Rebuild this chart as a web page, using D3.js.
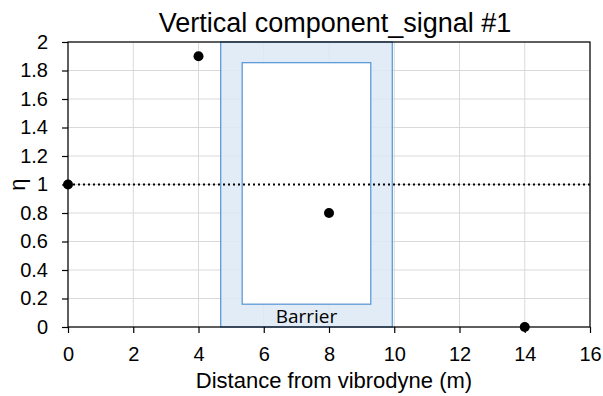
<!DOCTYPE html>
<html>
<head>
<meta charset="utf-8">
<script src="https://cdn.jsdelivr.net/npm/d3@7"></script>
<style>
  body { margin: 0; background: #fff; }
  text { font-family: "Liberation Sans", Arial, sans-serif; }
</style>
</head>
<body>
<script>
// data
var pointX = [0, 4, 8, 14];
var pointY = [1, 1.9, 0.8, 0];
var xTicks = [0, 2, 4, 6, 8, 10, 12, 14, 16];
var yTicks = [0, 0.2, 0.4, 0.6, 0.8, 1, 1.2, 1.4, 1.6, 1.8, 2];
var refLevel = 1;
var barrierOuter = [4.68, 9.94, 0, 2];
var barrierInner = [5.34, 9.28, 0.16, 1.855];

var margin = { top: 42, right: 13, bottom: 69, left: 68 },
    width = 603 - margin.left - margin.right,
    height = 396 - margin.top - margin.bottom;

var x = d3.scaleLinear().domain([0, 16]).range([0, width]);
var y = d3.scaleLinear().domain([0, 2]).range([height, 0]);

var svg = d3.select("body").append("svg")
    .attr("width", 603)
    .attr("height", 396);

var g = svg.append("g")
    .attr("transform", "translate(" + margin.left + "," + margin.top + ")");

// grid
g.selectAll(".gx").data(xTicks).enter().append("line")
    .attr("x1", function (d) { return x(d); })
    .attr("x2", function (d) { return x(d); })
    .attr("y1", 0).attr("y2", height)
    .style("stroke", "#d9d9d9").style("stroke-width", 1);
g.selectAll(".gy").data(yTicks).enter().append("line")
    .attr("x1", 0).attr("x2", width)
    .attr("y1", function (d) { return y(d); })
    .attr("y2", function (d) { return y(d); })
    .style("stroke", "#d9d9d9").style("stroke-width", 1);

// barrier
g.append("rect")
    .attr("x", x(barrierOuter[0]))
    .attr("y", y(barrierOuter[3]))
    .attr("width", x(barrierOuter[1]) - x(barrierOuter[0]))
    .attr("height", y(barrierOuter[2]) - y(barrierOuter[3]))
    .style("fill", "#dce9f5").style("fill-opacity", 0.85)
    .style("stroke", "#5f9ad8").style("stroke-width", 1.3);
g.append("rect")
    .attr("x", x(barrierInner[0]))
    .attr("y", y(barrierInner[3]))
    .attr("width", x(barrierInner[1]) - x(barrierInner[0]))
    .attr("height", y(barrierInner[2]) - y(barrierInner[3]))
    .style("fill", "#fff")
    .style("stroke", "#5f9ad8").style("stroke-width", 1.3);
g.append("text")
    .attr("x", x((barrierOuter[0] + barrierOuter[1]) / 2))
    .attr("y", y(0) - 4)
    .attr("text-anchor", "middle")
    .style("font-family", "'Open Sans', 'Liberation Sans', sans-serif")
    .style("font-size", "19px")
    .text("Barrier");

// reference line
g.append("line")
    .attr("x1", x(0)).attr("x2", x(16))
    .attr("y1", y(refLevel)).attr("y2", y(refLevel))
    .style("stroke", "#000").style("stroke-width", 2)
    .style("stroke-dasharray", "2,3");

// frame
g.append("rect")
    .attr("width", width).attr("height", height)
    .style("fill", "none").style("stroke", "#000").style("stroke-width", 1.2);

// axes
var xAxis = g.append("g")
    .attr("transform", "translate(0," + height + ")")
    .call(d3.axisBottom(x).tickValues(xTicks).tickSize(6).tickPadding(14).tickFormat(d3.format("d")));
var yAxis = g.append("g")
    .call(d3.axisLeft(y).tickValues(yTicks).tickSize(6).tickPadding(14).tickFormat(function (d) { return d3.format("")(+d.toFixed(1)); }));

[xAxis, yAxis].forEach(function (a) {
    a.select(".domain").remove();
    a.selectAll("line").style("stroke", "#000").style("stroke-width", 1.2);
    a.selectAll("text")
        .style("font-family", "'Liberation Sans', Arial, sans-serif")
        .style("font-size", "20px").style("fill", "#000");
});

// points
g.selectAll(".pt").data(pointX).enter().append("circle")
    .attr("cx", function (d) { return x(d); })
    .attr("cy", function (d, i) { return y(pointY[i]); })
    .attr("r", 5)
    .style("fill", "#000");

// title and labels
svg.append("text")
    .attr("x", margin.left + width / 2 + 6)
    .attr("y", 32)
    .attr("text-anchor", "middle")
    .style("font-size", "27px")
    .text("Vertical component_signal #1");

svg.append("text")
    .attr("x", margin.left + width / 2 + 5)
    .attr("y", 388)
    .attr("text-anchor", "middle")
    .style("font-size", "22px")
    .text("Distance from vibrodyne (m)");

svg.append("text")
    .attr("transform", "translate(25," + (margin.top + height / 2) + ") rotate(-90)")
    .attr("text-anchor", "middle")
    .style("font-size", "22px")
    .text("η");
</script>
</body>
</html>
